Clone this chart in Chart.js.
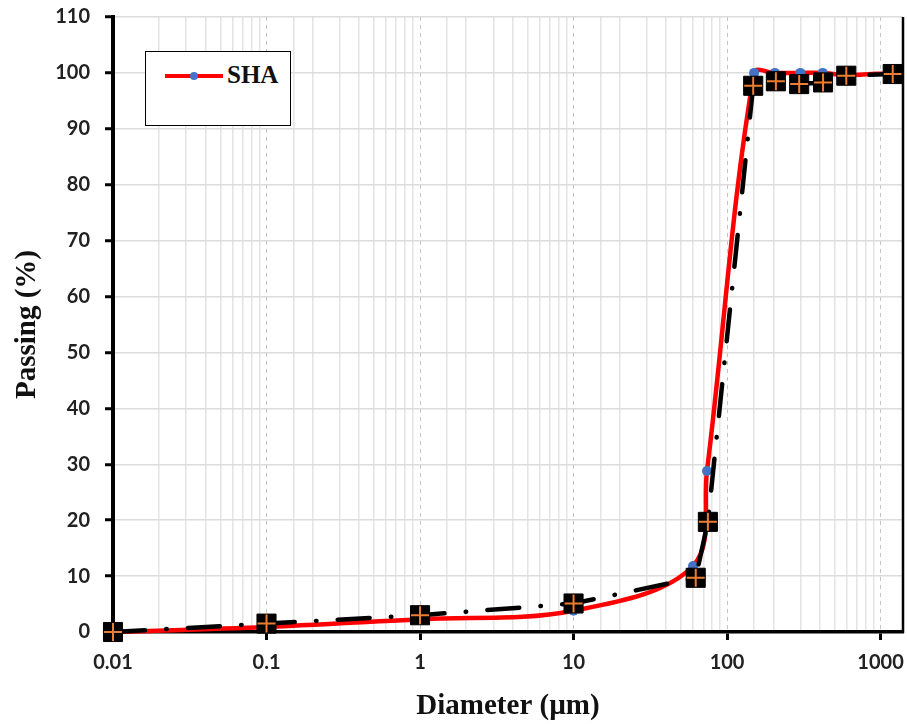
<!DOCTYPE html>
<html lang="en">
<head>
    <meta charset="UTF-8">
    <title>Particle size distribution</title>
    <script src="https://cdn.jsdelivr.net/npm/chart.js"></script>
    <style>
        body { margin: 0; background: #fff; }
        #wrap { position: relative; width: 907px; height: 724px; }
        #legendBox {
            position: absolute; left: 145px; top: 51px; width: 144px; height: 73px;
            border: 1.5px solid #000; background: #fff;
        }
        #legendLine { position: absolute; left: 19px; top: 22px; width: 58px; height: 4px; background: #ff0000; }
        #legendDot { position: absolute; left: 44px; top: 20px; width: 8px; height: 8px; border-radius: 50%; background: #4472c4; }
        #legendText {
            position: absolute; left: 81px; top: 9px;
            font: bold 25px "Liberation Serif", "Times New Roman", serif; color: #111;
        }
    </style>
</head>
<body>
<div id="wrap">
    <canvas id="myChart" width="907" height="724"></canvas>
    <div id="legendBox">
        <div id="legendLine"></div>
        <div id="legendDot"></div>
        <div id="legendText">SHA</div>
    </div>
</div>

<script>
    // SHA (red smoothed curve, blue markers)
    const shaDiameter = [0.01, 0.1, 1, 10, 60, 74, 150, 205, 300, 420, 600, 1200];
    const shaPassing  = [0, 0.9, 2.3, 3.8, 11.8, 28.8, 100, 100, 100, 100, 99.6, 100];

    // second curve (black dash-dot, square markers)
    const refDiameter = [0.01, 0.1, 1, 10, 62.5, 75, 148, 208, 295, 422, 598, 1200];
    const refPassing  = [0, 1.5, 3.0, 5.1, 9.7, 19.7, 97.7, 98.5, 98.0, 98.3, 99.5, 99.8];

    const xTickLabels = ['0.01', '0.1', '1', '10', '100', '1000'];

    function toPoints(xs, ys) {
        return xs.map((x, i) => ({ x: x, y: ys[i] }));
    }

    function isDecade(v) {
        const l = Math.log10(v);
        return Math.abs(l - Math.round(l)) < 1e-6;
    }

    const tickFont = { family: 'Lato, "Open Sans", sans-serif', size: 20, weight: 'bold' };
    const titleFont = { family: '"Liberation Serif", "Times New Roman", serif', size: 29, weight: 'bold' };

    const rightBorder = {
        id: 'rightBorder',
        afterDatasetsDraw(chart) {
            const a = chart.chartArea;
            const ctx = chart.ctx;
            ctx.save();
            ctx.strokeStyle = '#000';
            ctx.lineWidth = 2.5;
            ctx.beginPath();
            ctx.moveTo(a.right, a.top);
            ctx.lineTo(a.right, a.bottom + 1);
            ctx.stroke();
            ctx.restore();
        }
    };

    const ctx = document.getElementById('myChart').getContext('2d');
    const myChart = new Chart(ctx, {
        type: 'line',
        data: {
            datasets: [
                {
                    label: 'cross',
                    data: toPoints(refDiameter, refPassing),
                    showLine: false,
                    pointStyle: 'cross',
                    pointRadius: 9,
                    pointBorderColor: '#ed7d31',
                    pointBorderWidth: 2,
                    clip: false,
                    order: 0
                },
                {
                    label: 'ref',
                    data: toPoints(refDiameter, refPassing),
                    borderColor: '#000',
                    borderWidth: 4.5,
                    borderDash: [32, 21.25, 0.5, 21.25],
                    borderCapStyle: 'round',
                    tension: 0,
                    pointStyle: 'rect',
                    pointRadius: 13.5,
                    pointBackgroundColor: '#000',
                    pointBorderColor: '#000',
                    pointBorderWidth: 1,
                    clip: false,
                    order: 1
                },
                {
                    label: 'SHA',
                    data: toPoints(shaDiameter, shaPassing),
                    borderColor: '#ff0000',
                    borderWidth: 4.5,
                    tension: 0.35,
                    pointStyle: 'circle',
                    pointRadius: 5,
                    pointBackgroundColor: '#4472c4',
                    pointBorderColor: '#4472c4',
                    pointBorderWidth: 0,
                    clip: false,
                    order: 2
                }
            ]
        },
        options: {
            responsive: false,
            animation: false,
            events: [],
            layout: { autoPadding: false, padding: { top: 17, right: 4, bottom: 0, left: 0 } },
            plugins: {
                legend: { display: false },
                tooltip: { enabled: false }
            },
            scales: {
                x: {
                    type: 'logarithmic',
                    min: 0.01,
                    max: 1400,
                    afterFit: (scale) => {
                        scale.height = 92;
                        scale.paddingLeft = 0;
                        scale.paddingRight = 0;
                    },
                    ticks: {
                        autoSkip: false,
                        maxRotation: 0,
                        padding: 11,
                        color: '#222',
                        font: tickFont,
                        callback: (v) => {
                            if (!isDecade(v)) return '';
                            const idx = Math.round(Math.log10(v)) + 2;
                            return xTickLabels[idx] !== undefined ? xTickLabels[idx] : '';
                        }
                    },
                    grid: {
                        color: (c) => c.tick && isDecade(c.tick.value) ? '#c4c4c4' : '#e4e4e4',
                        lineWidth: (c) => c.tick && isDecade(c.tick.value) ? 1 : 1.5,
                        tickLength: 8,
                        tickWidth: 3,
                        tickColor: (c) => c.tick && isDecade(c.tick.value) ? '#000' : 'rgba(0,0,0,0)'
                    },
                    border: {
                        color: '#000',
                        width: 3.5,
                        dash: (c) => c.tick && isDecade(c.tick.value) ? [4, 4] : []
                    },
                    title: {
                        display: true,
                        text: 'Diameter (µm)',
                        color: '#111',
                        font: titleFont,
                        padding: { top: 0, bottom: 0 }
                    }
                },
                y: {
                    min: 0,
                    max: 110,
                    afterFit: (scale) => {
                        scale.width = 113;
                        scale.paddingTop = 0;
                        scale.paddingBottom = 0;
                    },
                    ticks: {
                        stepSize: 10,
                        padding: 15,
                        color: '#222',
                        font: tickFont
                    },
                    grid: {
                        color: '#dcdcdc',
                        lineWidth: 1.5,
                        tickLength: 8,
                        tickWidth: 3,
                        tickColor: '#000'
                    },
                    border: { color: '#000', width: 4 },
                    title: {
                        display: true,
                        text: 'Passing (%)',
                        color: '#111',
                        font: titleFont,
                        padding: { top: 10, bottom: 0 }
                    }
                }
            }
        },
        plugins: [rightBorder]
    });
</script>
</body>
</html>
